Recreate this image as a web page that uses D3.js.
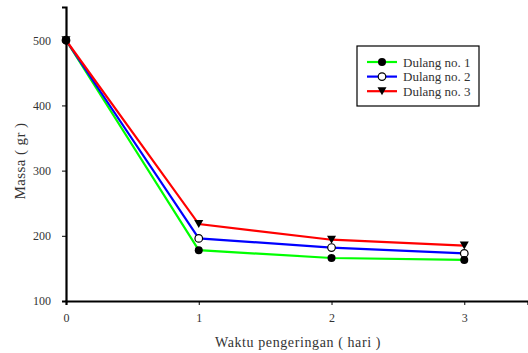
<!DOCTYPE html>
<html>
<head>
<meta charset="utf-8">
<script src="https://cdn.jsdelivr.net/npm/d3@7"></script>
<style>
  body { margin: 0; background: #fff; }
  svg text { font-family: "Liberation Serif", "Times New Roman", serif; fill: #333; }
</style>
</head>
<body>
<script>
var days = [0, 1, 2, 3];
var dulang1 = [500, 178, 166, 163];
var dulang2 = [500, 196, 182, 173];
var dulang3 = [500, 218, 194, 185];
var names = ["Dulang no. 1", "Dulang no. 2", "Dulang no. 3"];
var colors = ["#00ff00", "#0000ff", "#ff0000"];
var yTicks = [100, 200, 300, 400, 500];

function init(){
    var w = 528, h = 353;
    var svg = d3.select("body").append("svg")
                .attr("width", w)
                .attr("height", h);

    var xScale = d3.scaleLinear().domain([0, 3.48]).range([66, 528]);
    var yScale = d3.scaleLinear().domain([100, 551]).range([301, 7]);

    var series = [dulang1, dulang2, dulang3];

    var line = d3.line()
        .x(function(d, i){ return xScale(days[i]); })
        .y(function(d){ return yScale(d); });

    series.forEach(function(s, k){
        svg.append("path")
            .attr("d", line(s))
            .attr("fill", "none")
            .attr("stroke", colors[k])
            .attr("stroke-width", 2.2);
    });

    // markers
    function marker(g, k, x, y){
        if (k == 0) {
            g.append("circle").attr("cx", x).attr("cy", y).attr("r", 4).attr("fill", "#000");
        } else if (k == 1) {
            g.append("circle").attr("cx", x).attr("cy", y).attr("r", 3.8)
                .attr("fill", "#fff").attr("stroke", "#000").attr("stroke-width", 1.2);
        } else {
            g.append("path").attr("d", "M" + (x-4.5) + "," + (y-4) + "L" + (x+4.5) + "," + (y-4) + "L" + x + "," + (y+4) + "Z")
                .attr("fill", "#000");
        }
    }
    var mg = svg.append("g");
    [2, 1, 0].forEach(function(k){
        series[k].forEach(function(v, i){
            marker(mg, k, xScale(days[i]), yScale(v));
        });
    });

    var xAxis = d3.axisBottom(xScale).tickValues(days).tickSize(4).tickPadding(8).tickFormat(d3.format("d"));
    var yAxis = d3.axisLeft(yScale).tickValues(yTicks).tickSize(4).tickPadding(11);

    var gx = svg.append("g").attr("transform", "translate(0," + 301 + ")").call(xAxis);
    var gy = svg.append("g").attr("transform", "translate(" + 66 + ",0)").call(yAxis);
    [gx, gy].forEach(function(g){
        g.attr("font-family", null);
        g.select(".domain").attr("stroke", "#000").attr("stroke-width", 2.2);
        g.selectAll(".tick line").attr("stroke", "#000");
        g.selectAll(".tick text").attr("font-size", 12).attr("fill", "#333");
    });

    svg.append("text")
        .attr("transform", "translate(25,161) rotate(-90)")
        .attr("text-anchor", "middle")
        .attr("font-size", 15)
        .attr("letter-spacing", 0.4)
        .text("Massa ( gr )");
    svg.append("text")
        .attr("x", 298).attr("y", 347)
        .attr("text-anchor", "middle")
        .attr("font-size", 14)
        .attr("letter-spacing", 0.6)
        .text("Waktu pengeringan ( hari )");

    // legend
    var lg = svg.append("g").attr("transform", "translate(357,46)");
    lg.append("rect").attr("width", 122).attr("height", 60)
        .attr("fill", "#fff").attr("stroke", "#000").attr("stroke-width", 1.2);
    names.forEach(function(n, k){
        var y = 16 + k * 14.6;
        lg.append("line").attr("x1", 10).attr("x2", 40).attr("y1", y).attr("y2", y)
            .attr("stroke", colors[k]).attr("stroke-width", 2.2);
        marker(lg, k, 25, y);
        lg.append("text").attr("x", 46).attr("y", y + 4.5)
            .attr("font-size", 13).text(n);
    });
}
window.onload = init;
</script>
</body>
</html>
